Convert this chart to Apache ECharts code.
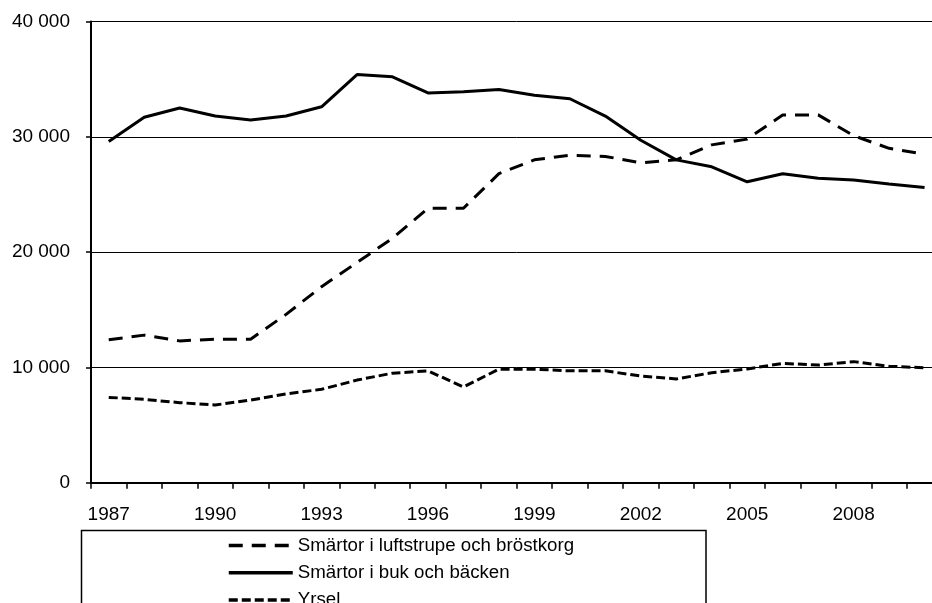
<!DOCTYPE html>
<html>
<head>
<meta charset="utf-8">
<script src="https://cdn.jsdelivr.net/npm/echarts@6/dist/echarts.min.js"></script>
<style>
html,body{margin:0;padding:0;background:#fff;overflow:hidden;width:932px;height:603px;}
#chart{width:950px;height:603px;}
</style>
</head>
<body>
<div id="chart"></div>
<script>
const years = ['1987','1988','1989','1990','1991','1992','1993','1994','1995','1996','1997','1998','1999','2000','2001','2002','2003','2004','2005','2006','2007','2008','2009','2010'];
const luftstrupe = [12400, 12800, 12300, 12450, 12450, 14600, 17000, 19100, 21200, 23800, 23800, 26800, 28000, 28400, 28300, 27750, 28000, 29300, 29800, 31900, 31900, 30100, 29000, 28500];
const buk = [29600, 31700, 32500, 31800, 31450, 31800, 32600, 35400, 35200, 33800, 33900, 34100, 33600, 33300, 31800, 29700, 28000, 27400, 26100, 26800, 26400, 26250, 25900, 25600];
const yrsel = [7400, 7230, 6940, 6740, 7170, 7700, 8100, 8900, 9500, 9700, 8300, 9850, 9850, 9700, 9700, 9250, 9000, 9540, 9860, 10350, 10200, 10500, 10100, 9970];
const seriesNames = ['Smärtor i luftstrupe och bröstkorg', 'Smärtor i buk och bäcken', 'Yrsel'];
const yTicks = [0, 10000, 20000, 30000, 40000];

const FONT = 'Liberation Sans, Arial, sans-serif';
const chart = echarts.init(document.getElementById('chart'), null, {renderer: 'canvas'});
chart.setOption({
  animation: false,
  backgroundColor: '#fff',
  grid: {left: 91, right: 7.7, top: 21.5, bottom: 120.3, containLabel: false},
  xAxis: {
    type: 'category',
    data: years,
    boundaryGap: true,
    axisLine: {lineStyle: {color: '#000', width: 2}},
    axisTick: {show: true, interval: 0, length: 6, lineStyle: {color: '#000', width: 1.5}},
    axisLabel: {interval: 2, color: '#000', fontFamily: FONT, fontSize: 19, margin: 23},
    splitLine: {show: false}
  },
  yAxis: {
    type: 'value',
    min: yTicks[0],
    max: yTicks[yTicks.length - 1],
    interval: 10000,
    axisLine: {show: true, lineStyle: {color: '#000', width: 2}},
    axisTick: {show: true, length: 5, lineStyle: {color: '#000', width: 1.5}},
    axisLabel: {
      color: '#000', fontFamily: FONT, fontSize: 19, margin: 21,
      formatter: v => String(v).replace(/\B(?=(\d{3})+(?!\d))/g, ' ')
    },
    splitLine: {show: true, lineStyle: {color: '#000', width: 1}}
  },
  legend: {
    orient: 'vertical',
    left: 227,
    top: 536,
    height: 120,
    padding: 0,
    itemWidth: 64,
    itemHeight: 14,
    itemGap: 8.3,
    itemStyle: {opacity: 0, borderWidth: 0},
    lineStyle: {width: 3.5},
    textStyle: {color: '#000', fontFamily: FONT, fontSize: 18.7},
    data: seriesNames
  },
  graphic: [{
    type: 'rect',
    shape: {x: 81.5, y: 530.5, width: 624.5, height: 100},
    style: {fill: 'none', stroke: '#000', lineWidth: 1.5},
    silent: true,
    z: 0
  }],
  series: [
    {
      name: seriesNames[0], type: 'line', data: luftstrupe,
      symbol: 'none', showSymbol: false,
      lineStyle: {color: '#000', width: 3, type: [14, 9]},
      itemStyle: {color: '#000'}
    },
    {
      name: seriesNames[1], type: 'line', data: buk,
      symbol: 'none', showSymbol: false,
      lineStyle: {color: '#000', width: 3, type: 'solid'},
      itemStyle: {color: '#000'}
    },
    {
      name: seriesNames[2], type: 'line', data: yrsel,
      symbol: 'none', showSymbol: false,
      lineStyle: {color: '#000', width: 3, type: [9, 4]},
      itemStyle: {color: '#000'}
    }
  ]
});
</script>
</body>
</html>
